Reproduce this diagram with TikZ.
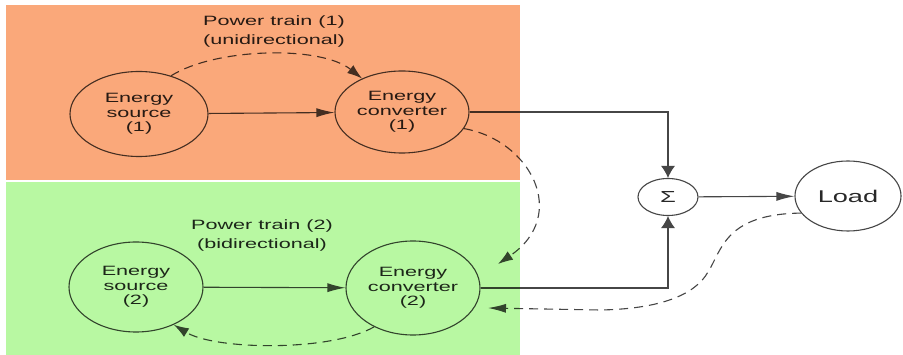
\documentclass[tikz,border=0pt]{standalone}
\usepackage{fontspec}
\newfontfamily\dfont[FakeStretch=1.6]{Liberation Sans}
\usetikzlibrary{shapes.geometric,arrows.meta}
\definecolor{orangebg}{RGB}{250,168,122}
\definecolor{greenbg}{RGB}{184,248,162}
\definecolor{linegray}{RGB}{70,70,70}
\definecolor{txtgray}{RGB}{40,40,40}
\begin{document}
\begin{tikzpicture}[x=1pt,y=-1pt,
  blob/.style={ellipse, draw=linegray, line width=1.1pt, inner sep=0pt, text=txtgray,
    font=\dfont\fontsize{13.5}{14.5}\selectfont, align=center},
  lbl/.style={text=txtgray, font=\dfont\fontsize{13.5}{19}\selectfont, align=center, inner sep=0pt},
  conn/.style={draw=linegray, line width=1.1pt},
  dconn/.style={draw=linegray, line width=1.1pt, dash pattern=on 9pt off 6pt},
  harr/.style={-{Latex[length=18pt,width=9pt]}},
  varr/.style={-{Latex[length=12pt,width=14pt]}},
  marr/.style={-{Latex[length=15pt,width=10pt]}}]
\useasboundingbox (0,0) rectangle (903,355);
\fill[white] (0,0) rectangle (903,355);

\node[blob, minimum width=138pt, minimum height=85pt] (S1) at (139,114) {Energy\\source\\(1)};
\node[blob, minimum width=134pt, minimum height=82pt] (C1) at (402,112) {Energy\\converter\\(1)};
\node[blob, minimum width=134pt, minimum height=90pt] (S2) at (136,287) {Energy\\source\\(2)};
\node[blob, minimum width=134pt, minimum height=94pt] (C2) at (413,288) {Energy\\converter\\(2)};
\node[blob, minimum width=60pt, minimum height=37pt, font=\dfont\fontsize{16}{18}\selectfont] (Sig) at (668,197) {Σ};
\node[blob, minimum width=106pt, minimum height=70pt, font=\dfont\fontsize{17}{19}\selectfont] (Load) at (848,196) {Load};

\node[lbl] (L1) at (274,32) {Power train (1)\\(unidirectional)};
\node[lbl] (L2) at (262,236) {Power train (2)\\(bidirectional)};

\coordinate (T2) at (498,264);
\coordinate (T3) at (488,308);

\draw[conn,harr] (S1) -- (C1);
\draw[conn,harr] (S2) -- (C2);
\draw[conn,varr] (C1.east) -| (Sig.north);
\draw[conn,varr] (C2.east) -| (Sig.south);
\draw[conn,harr] (Sig) -- (Load);

\draw[dconn,marr] (S1.50) .. controls (215,48) and (320,45) .. (C1.140);
\draw[dconn,marr] (C1.-15) .. controls (530,140) and (570,215) .. (T2);
\draw[dconn,harr] (Load.200) .. controls (725,214) and (722,250) .. (708,272)
   .. controls (695,295) and (660,309) .. (600,310) -- (T3);
\draw[dconn,marr] (C2.225) .. controls (330,352) and (215,350) .. (S2.-45);

\fill[orangebg, blend mode=multiply] (6,5) rectangle (520,180);
\fill[greenbg, blend mode=multiply] (6,182) rectangle (520,355);
\end{tikzpicture}
\end{document}
